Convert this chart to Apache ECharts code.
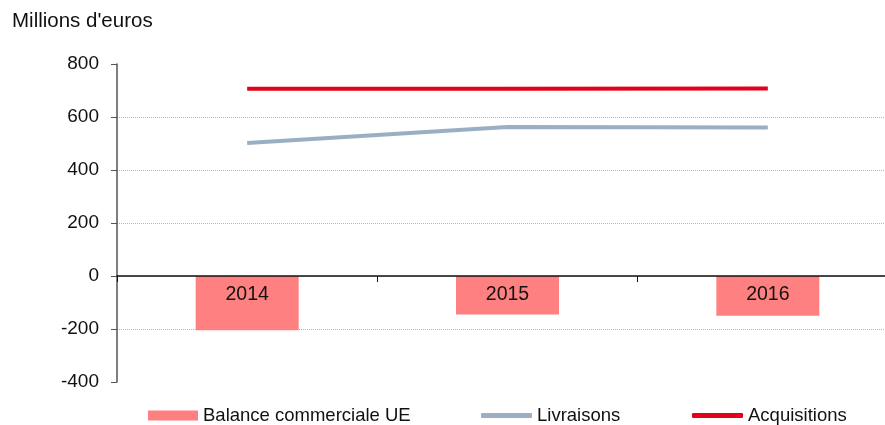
<!DOCTYPE html>
<html>
<head>
<meta charset="utf-8">
<script src="https://cdn.jsdelivr.net/npm/echarts@6/dist/echarts.min.js"></script>
<style>
  html, body { margin: 0; padding: 0; background: #fff; overflow: hidden; }
  #chart { width: 898px; height: 425px; }
</style>
</head>
<body>
<div id="chart"></div>
<script>
const years = ['2014', '2015', '2016'];
const balance = [-205, -145, -150];
const livraisons = [502, 562, 560];
const acquisitions = [707, 707, 708];

const font = 'Liberation Sans, Arial, sans-serif';
const chart = echarts.init(document.getElementById('chart'));

chart.setOption({
    animation: false,
    textStyle: { fontFamily: font },
    title: {
        text: "Millions d'euros",
        left: 7,
        top: 6,
        textStyle: { fontSize: 20.5, fontWeight: 'normal', color: '#111', fontFamily: font }
    },
    legend: [
        {
            data: ['Balance commerciale UE'],
            left: 143, top: 401,
            itemWidth: 50, itemHeight: 10,
            icon: 'rect',
            textStyle: { fontSize: 18.5, color: '#111', fontFamily: font }
        },
        {
            data: ['Livraisons'],
            left: 476, top: 401,
            itemWidth: 51, itemHeight: 5,
            icon: 'roundRect',
            textStyle: { fontSize: 18.5, color: '#111', fontFamily: font }
        },
        {
            data: ['Acquisitions'],
            left: 687, top: 401,
            itemWidth: 51, itemHeight: 5,
            icon: 'roundRect',
            textStyle: { fontSize: 18.5, color: '#111', fontFamily: font }
        }
    ],
    grid: { left: 117, right: 0, top: 64, bottom: 43 },
    xAxis: {
        type: 'category',
        data: years,
        z: 10,
        axisLine: { onZero: true, lineStyle: { color: '#111', width: 1.5 } },
        axisTick: { show: true, length: 6, lineStyle: { color: '#111' } },
        axisLabel: { fontSize: 19.5, color: '#111', margin: -97, fontFamily: font }
    },
    yAxis: {
        type: 'value',
        min: -400,
        max: 800,
        interval: 200,
        axisLine: { show: true, lineStyle: { color: '#555', width: 1.5 } },
        axisTick: { show: true, length: 6, lineStyle: { color: '#555' } },
        axisLabel: { fontSize: 19, color: '#111', margin: 18, fontFamily: font },
        splitLine: {
            show: true,
            showMinLine: false,
            showMaxLine: false,
            lineStyle: { color: '#a9b8cc', type: [1, 1], width: 1 }
        }
    },
    series: [
        {
            name: 'Balance commerciale UE',
            type: 'bar',
            data: balance,
            barWidth: 103,
            itemStyle: { color: '#ff8080' },
            z: 2
        },
        {
            name: 'Livraisons',
            type: 'line',
            data: livraisons,
            symbol: 'none',
            lineStyle: { color: '#9aafc3', width: 4 },
            itemStyle: { color: '#9aafc3' },
            z: 3
        },
        {
            name: 'Acquisitions',
            type: 'line',
            data: acquisitions,
            symbol: 'none',
            lineStyle: { color: '#e2001a', width: 4 },
            itemStyle: { color: '#e2001a' },
            z: 4
        }
    ]
});
</script>
</body>
</html>
